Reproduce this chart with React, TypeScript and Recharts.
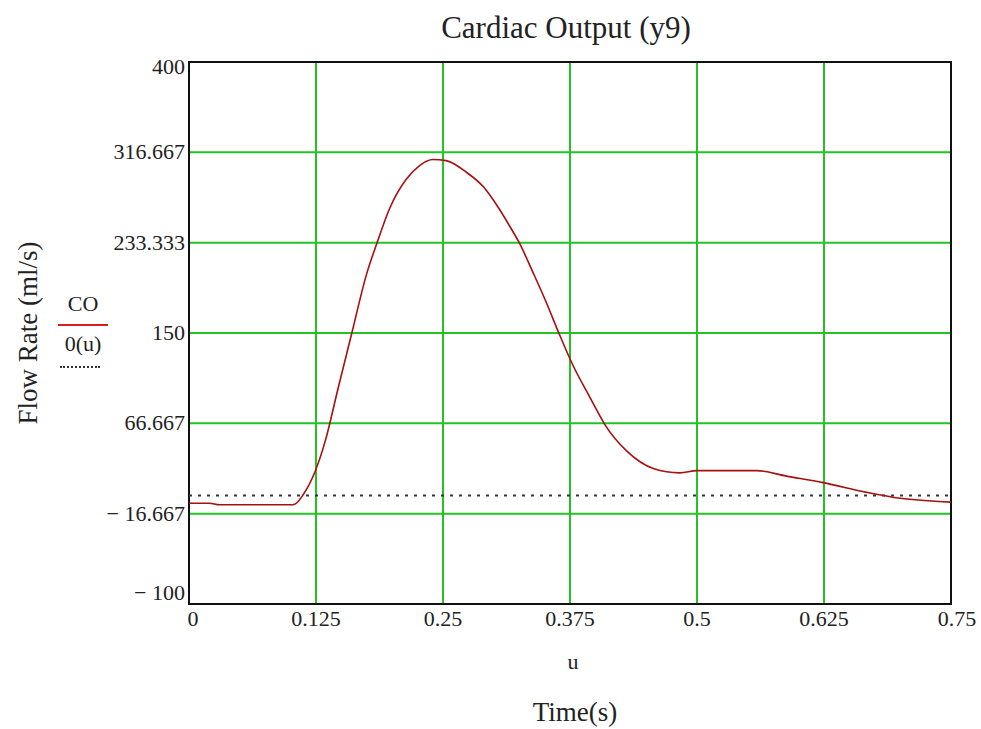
import { LineChart, Line, XAxis, YAxis, CartesianGrid, ReferenceArea } from 'recharts';

// time (s) and cardiac output (ml/s)
const timeS = [0, 0.02, 0.03, 0.06, 0.09, 0.1, 0.104, 0.1125, 0.124, 0.134, 0.147, 0.16, 0.175, 0.185, 0.198, 0.214, 0.227, 0.24, 0.253, 0.273, 0.29, 0.303, 0.316, 0.325, 0.339, 0.352, 0.364, 0.378, 0.395, 0.409, 0.431, 0.457, 0.483, 0.5, 0.559, 0.588, 0.624, 0.667, 0.7, 0.75];
const coFlow = [-7, -7, -8.5, -8.5, -8.5, -8.5, -8, 1, 22, 50, 100, 149, 205, 233, 266, 292, 304.5, 310, 309, 298.3, 284.6, 267.8, 248, 233.3, 205, 177.5, 150, 120, 90, 66, 41, 25, 21, 23, 23, 18, 12, 3, -2.5, -6];

// the zero function 0(u)
const zeroTimes = [0, 0.75];
const zeroValues = [0, 0];

const xTicks = [0, 0.125, 0.25, 0.375, 0.5, 0.625, 0.75];
const yTicks = [-100, -16.667, 66.667, 150, 233.333, 316.667, 400];

const coData = timeS.map((t, i) => ({ t, co: coFlow[i] }));
const zeroData = zeroTimes.map((t, i) => ({ t, zero: zeroValues[i] }));

const FONT = '"Liberation Serif", "DejaVu Serif", serif';
const GRID = '#22c322';

const fmtY = (v: number) => (v < 0 ? '\u2212 ' + String(Math.abs(v)) : String(v));

const YTick = (props: any) => {
  const { x, y, payload } = props;
  let dy = 7;
  if (payload.value === 400) dy = 12;
  if (payload.value === -100) dy = -4;
  return (
    <text x={x} y={y + dy} textAnchor="end" fontFamily={FONT} fontSize={22} fill="#222">
      {fmtY(payload.value)}
    </text>
  );
};

const XTick = (props: any) => {
  const { x, y, payload } = props;
  let dx = 0;
  if (payload.value === 0) dx = 4;
  if (payload.value === 0.75) dx = 6;
  return (
    <text x={x + dx} y={y + 18} textAnchor="middle" fontFamily={FONT} fontSize={22} fill="#222">
      {String(payload.value)}
    </text>
  );
};

const XLabel = (props: any) => {
  const { viewBox } = props;
  const cx = viewBox.x + viewBox.width / 2;
  return (
    <g fontFamily={FONT} fill="#222">
      <text x={cx + 3} y={viewBox.y + 65} textAnchor="middle" fontSize={22}>u</text>
      <text x={cx + 5} y={viewBox.y + 117} textAnchor="middle" fontSize={27}>Time(s)</text>
    </g>
  );
};

const YLabel = (props: any) => {
  const { viewBox } = props;
  const cy = viewBox.y + viewBox.height / 2;
  const x = 37;
  return (
    <text x={x} y={cy} transform={`rotate(-90 ${x} ${cy})`} textAnchor="middle" fontFamily={FONT} fontSize={27} fill="#222">
      Flow Rate (ml/s)
    </text>
  );
};

const LegendBox = () => (
  <div style={{ position: 'absolute', left: 58, top: 292, fontFamily: FONT, fontSize: 22, color: '#222', width: 50 }}>
    <div style={{ textAlign: 'center', lineHeight: '24px' }}>CO</div>
    <div style={{ borderTop: '2px solid #d02020', margin: '8px 0 6px 0' }} />
    <div style={{ textAlign: 'center', lineHeight: '24px' }}>0(u)</div>
    <div style={{ borderTop: '2px dotted #333', width: 40, margin: '10px 0 0 2px' }} />
  </div>
);

export default function App() {
  return (
    <div style={{ position: 'absolute', left: 0, top: 0, width: 981, height: 729, background: '#fff' }}>
      <div
        style={{
          position: 'absolute',
          left: 0,
          top: 10,
          width: 1132,
          textAlign: 'center',
          fontFamily: FONT,
          fontSize: 31,
          color: '#222',
        }}
      >
        Cardiac Output (y9)
      </div>
      <LegendBox />
      <LineChart width={981} height={729} margin={{ top: 62, right: 30, bottom: 95, left: 129 }}>
        <CartesianGrid stroke={GRID} strokeWidth={2} />
        <XAxis
          dataKey="t"
          type="number"
          domain={[0, 0.75]}
          ticks={xTicks}
          axisLine={false}
          tickLine={false}
          tickSize={0}
          tickMargin={4}
          height={30}
          tick={<XTick />}
          label={<XLabel />}
          allowDataOverflow
        />
        <YAxis
          type="number"
          domain={[-100, 400]}
          ticks={yTicks}
          axisLine={false}
          tickLine={false}
          tickSize={0}
          tickMargin={4}
          width={60}
          tick={<YTick />}
          label={<YLabel />}
          allowDataOverflow
        />
        <Line
          data={zeroData}
          dataKey="zero"
          name="0(u)"
          stroke="#333344"
          strokeWidth={2}
          strokeDasharray="3 6"
          dot={false}
          isAnimationActive={false}
        />
        <Line
          data={coData}
          dataKey="co"
          name="CO"
          type="monotone"
          stroke="#a80f0f"
          strokeWidth={1.6}
          dot={false}
          isAnimationActive={false}
        />
        <ReferenceArea x1={0} x2={0.75} y1={-100} y2={400} fill="none" stroke="#111" strokeWidth={2} ifOverflow="visible" />
      </LineChart>
    </div>
  );
}
